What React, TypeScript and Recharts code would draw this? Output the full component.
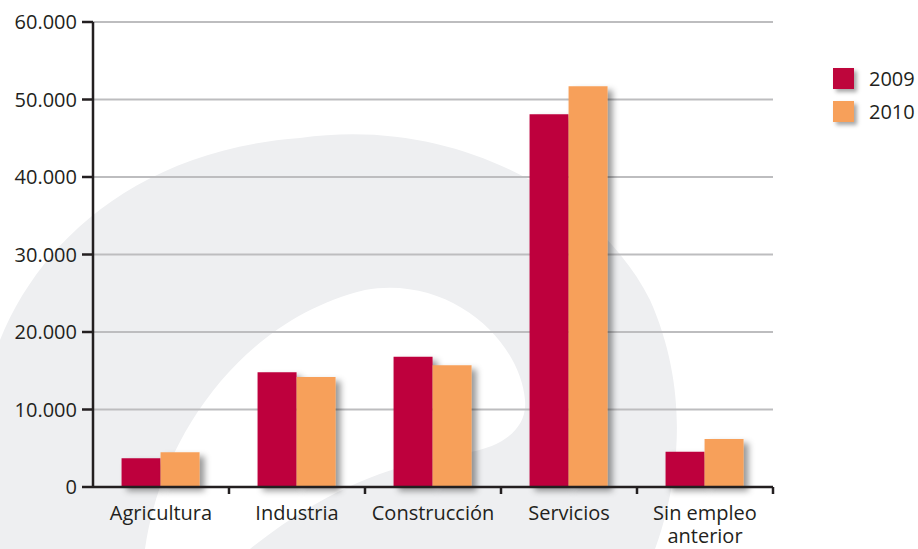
import React from 'react';
import { BarChart, Bar, XAxis, YAxis, CartesianGrid, Legend, Rectangle, Text } from 'recharts';

const categories = ['Agricultura', 'Industria', 'Construcción', 'Servicios', 'Sin empleo anterior'];
const values2009 = [3700, 14800, 16800, 48100, 4550];
const values2010 = [4500, 14200, 15700, 51700, 6200];
const yTicks = [0, 10000, 20000, 30000, 40000, 50000, 60000];
const seriesNames = ['2009', '2010'];
const seriesColors = ['#BE063C', '#F7A05A'];

const data = categories.map((c, i) => ({ name: c, v2009: values2009[i], v2010: values2010[i] }));

const FONT = '"Open Sans", "Noto Sans", sans-serif';
const TEXT = '#231f20';
const FS = 20;

const fmt = (v: number) => (v === 0 ? '0' : v.toLocaleString('de-DE'));

const CatTick = (props: any) => {
  const { x, y, payload } = props;
  const half = payload && typeof payload.offset === 'number' ? payload.offset : 0;
  return (
    <g>
      {half > 0 && (
        <line x1={x + half} x2={x + half} y1={y} y2={y + 7} stroke={TEXT} strokeWidth={2.5} />
      )}
      <Text
        x={x}
        y={y + 19}
        width={135}
        textAnchor="middle"
        verticalAnchor="start"
        lineHeight={23}
        fontSize={FS}
        fontFamily={FONT}
        fill={TEXT}
        style={{ fontSize: FS, fontFamily: FONT }}
      >
        {payload.value}
      </Text>
    </g>
  );
};

const GridLine = (props: any) => {
  const { x1, x2, y1, y2 } = props;
  return (
    <g>
      <line x1={x1} x2={x2 + 12} y1={y1 + 5} y2={y2 + 5} stroke="#cfd0d3" strokeWidth={6} filter="url(#gridBlur)" />
      <line x1={x1} x2={x2} y1={y1} y2={y2} stroke="#bdbdbf" strokeWidth={2} />
    </g>
  );
};

const LegendContent = () => (
  <div style={{ fontFamily: FONT, color: TEXT, fontSize: FS }}>
    {seriesNames.map((n, i) => (
      <div key={n} style={{ display: 'flex', alignItems: 'center', height: 33 }}>
        <div
          style={{
            width: 21,
            height: 21,
            background: seriesColors[i],
            boxShadow: '3px 3px 4px rgba(0,0,0,0.35)',
            marginRight: 15,
          }}
        />
        <span>{n}</span>
      </div>
    ))}
  </div>
);

export default function App() {
  return (
    <div style={{ position: 'absolute', left: 0, top: 0, width: 918, height: 549, background: '#fff', overflow: 'hidden' }}>
      <svg width={918} height={549} style={{ position: 'absolute', left: 0, top: 0 }}>
        <path
          d="M0,549 L0,340 C40,240 140,150 300,138 C460,115 600,200 650,300 C690,390 680,480 655,549 Z"
          fill="#eeeff1"
        />
        <path
          d="M145,549 C160,440 240,320 365,290 C450,275 520,340 525,400 C528,430 500,447 470,452 C400,462 330,485 250,549 Z"
          fill="#ffffff"
        />
      </svg>
      <div style={{ position: 'absolute', left: 0, top: 0 }}>
        <BarChart
          width={918}
          height={549}
          data={data}
          margin={{ top: 22, right: 60, bottom: 0, left: 0 }}
          barCategoryGap="21%"
          barGap={0}
        >
          <defs>
            <filter id="barShadow" x="-20%" y="-20%" width="160%" height="160%">
              <feDropShadow dx={5} dy={4} stdDeviation={3} floodColor="#000" floodOpacity={0.4} />
            </filter>
            <filter id="gridBlur" x="-5%" y="-300%" width="110%" height="700%">
              <feGaussianBlur stdDeviation={3} />
            </filter>
          </defs>
          <CartesianGrid vertical={false} horizontal={GridLine} />
          <XAxis
            dataKey="name"
            height={62}
            interval={0}
            tickLine={false}
            tickSize={0}
            tickMargin={0}
            axisLine={{ stroke: TEXT, strokeWidth: 2.5 }}
            tick={<CatTick />}
          />
          <YAxis
            width={93}
            domain={[0, 60000]}
            ticks={yTicks}
            tickFormatter={fmt}
            interval={0}
            axisLine={{ stroke: TEXT, strokeWidth: 2.5 }}
            tickLine={{ stroke: TEXT, strokeWidth: 2.5 }}
            tickSize={11}
            tickMargin={5}
            tick={{ fontSize: FS, fontFamily: FONT, fill: TEXT }}
          />
          <Legend
            layout="vertical"
            align="right"
            verticalAlign="top"
            content={<LegendContent />}
            wrapperStyle={{ left: 833, top: 62, width: 85 }}
          />
          <Bar
            dataKey="v2009"
            name={seriesNames[0]}
            fill={seriesColors[0]}
            isAnimationActive={false}
            shape={(p: any) => <Rectangle {...p} filter="url(#barShadow)" />}
          />
          <Bar
            dataKey="v2010"
            name={seriesNames[1]}
            fill={seriesColors[1]}
            isAnimationActive={false}
            shape={(p: any) => <Rectangle {...p} filter="url(#barShadow)" />}
          />
        </BarChart>
      </div>
    </div>
  );
}
